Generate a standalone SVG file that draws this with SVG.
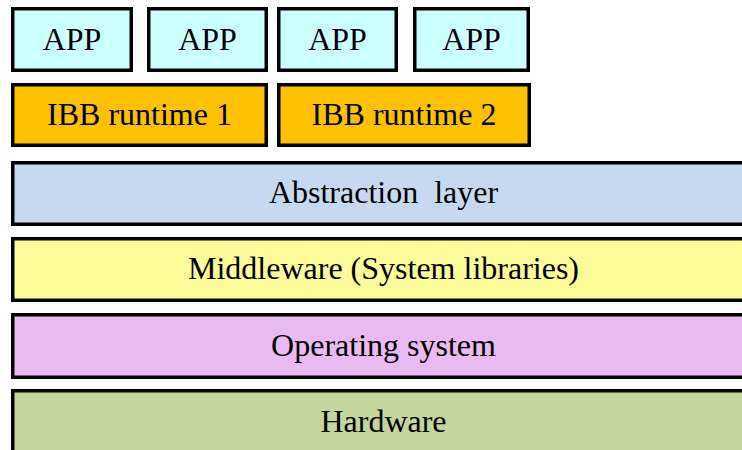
<svg xmlns="http://www.w3.org/2000/svg" width="742" height="450" viewBox="0 0 742 450">
<style>
.box { stroke: #000; stroke-width: 3.5; }
text { font-family: "Liberation Serif", "Times New Roman", serif; font-size: 32px; fill: #000; text-anchor: middle; }
.app { fill: #CCFFFF; }
.ibb { fill: #FFC000; }
.abs { fill: #C6D9F1; }
.mid { fill: #FCFC99; }
.os { fill: #EABBF2; }
.hw { fill: #C3D69B; }
</style>
<rect width="742" height="450" fill="#fff"/>
<g id="app1"><rect class="box app" x="12.75" y="8.75" width="118.5" height="61.5"/><text x="72" y="50">APP</text></g>
<g id="app2"><rect class="box app" x="148.75" y="8.75" width="117.5" height="61.5"/><text x="207.5" y="50">APP</text></g>
<g id="app3"><rect class="box app" x="278.75" y="8.75" width="117.5" height="61.5"/><text x="337.5" y="50">APP</text></g>
<g id="app4"><rect class="box app" x="414.75" y="8.75" width="113.5" height="61.5"/><text x="471.5" y="50">APP</text></g>
<g id="ibb1"><rect class="box ibb" x="12.75" y="84.75" width="253.5" height="60.5"/><text x="139.5" y="125">IBB runtime 1</text></g>
<g id="ibb2"><rect class="box ibb" x="278.75" y="84.75" width="250.5" height="60.5"/><text x="404" y="125">IBB runtime 2</text></g>
<g id="abstraction"><rect class="box abs" x="12.75" y="162.75" width="741.5" height="61.5"/><text x="383.5" y="203" xml:space="preserve">Abstraction  layer</text></g>
<g id="middleware"><rect class="box mid" x="12.75" y="238.75" width="741.5" height="61.5"/><text x="383.5" y="279">Middleware (System libraries)</text></g>
<g id="os"><rect class="box os" x="12.75" y="314.75" width="741.5" height="62.5"/><text x="383.5" y="356">Operating system</text></g>
<g id="hardware"><rect class="box hw" x="12.75" y="390.75" width="741.5" height="62"/><text x="383.5" y="432">Hardware</text></g>
<g id="connectors"></g>
</svg>
